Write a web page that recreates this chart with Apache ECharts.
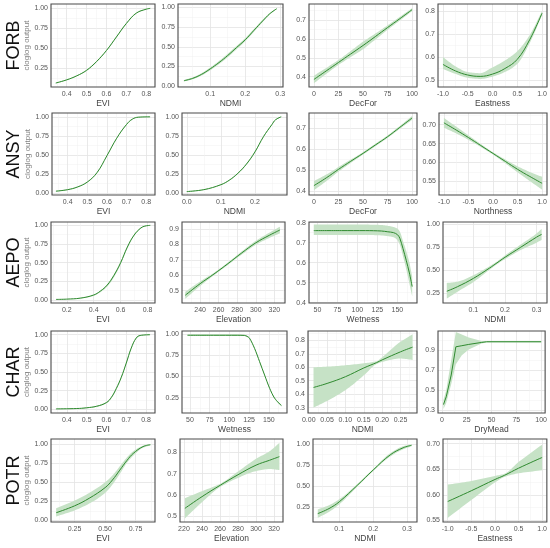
<!DOCTYPE html>
<html><head><meta charset="utf-8">
<script src="https://cdn.jsdelivr.net/npm/echarts@6/dist/echarts.min.js"></script>
<style>html,body{margin:0;padding:0;background:#fff}#c{width:550px;height:548px}</style>
</head><body><div id="c"></div>
<script>
// ---------- tick label arrays ----------
const ticksEvi = [0.4,0.5,0.6,0.7,0.8];
const ticksEvi2 = [0.2,0.4,0.6,0.8];
const ticksEvi3 = [0.25,0.5,0.75];
const ticksNdmi = [0,0.1,0.2,0.3];
const ticksNdmi2 = [0,0.05,0.1,0.15,0.2,0.25];
const ticksPct = [0,25,50,75,100];
const ticksAspect = [-1,-0.5,0,0.5,1];
const ticksProb = [0,0.25,0.5,0.75,1];
const ticksTenth = [0.3,0.4,0.5,0.6,0.7,0.8,0.9];
const ticksTwentieth = [0.55,0.6,0.65,0.7];
const ticksElevA = [240,260,280,300,320];
const ticksElevP = [220,240,260,280,300,320];
const ticksWet = [50,75,100,125,150];
const ticksOdd = [0.3,0.5,0.7,0.9];

const species = ['FORB','ANSY','AEPO','CHAR','POTR'];

// ---------- FORB ----------
const forbEviX   = [0.345,0.4,0.45,0.5,0.55,0.6,0.65,0.7,0.75,0.8,0.82];
const forbEviFit = [0.06,0.1,0.15,0.22,0.33,0.47,0.64,0.81,0.94,0.99,1.0];
const forbEviLo  = [0.055,0.094,0.144,0.213,0.322,0.462,0.632,0.803,0.934,0.986,0.997];
const forbEviHi  = [0.065,0.106,0.156,0.227,0.338,0.478,0.648,0.817,0.946,0.994,1.0];

const forbNdmiX   = [0.025,0.05,0.075,0.1,0.125,0.15,0.175,0.2,0.225,0.25,0.27,0.29];
const forbNdmiFit = [0.07,0.1,0.15,0.22,0.3,0.39,0.49,0.59,0.71,0.83,0.92,0.985];
const forbNdmiLo  = [0.06,0.088,0.135,0.202,0.28,0.368,0.468,0.57,0.692,0.815,0.91,0.979];
const forbNdmiHi  = [0.08,0.112,0.165,0.238,0.32,0.412,0.512,0.61,0.728,0.845,0.93,0.991];

const forbDecX   = [0,12.5,25,37.5,50,62.5,75,87.5,100];
const forbDecFit = [0.385,0.43,0.475,0.52,0.565,0.612,0.66,0.707,0.755];
const forbDecLo  = [0.365,0.414,0.462,0.504,0.545,0.596,0.648,0.697,0.747];
const forbDecHi  = [0.405,0.446,0.488,0.536,0.585,0.628,0.672,0.717,0.763];

const forbEastX   = [-1,-0.75,-0.5,-0.25,0,0.25,0.5,0.75,1];
const forbEastFit = [0.568,0.54,0.522,0.516,0.526,0.55,0.59,0.675,0.79];
const forbEastLo  = [0.548,0.527,0.51,0.505,0.515,0.535,0.57,0.66,0.782];
const forbEastHi  = [0.6,0.56,0.535,0.53,0.555,0.585,0.625,0.695,0.8];

// ---------- ANSY ----------
const ansyEviX   = [0.34,0.4,0.45,0.5,0.55,0.6,0.65,0.7,0.73,0.76,0.82];
const ansyEviFit = [0.025,0.045,0.08,0.145,0.27,0.49,0.72,0.9,0.97,0.995,1.0];
const ansyEviLo  = [0.019,0.039,0.074,0.139,0.264,0.484,0.714,0.894,0.964,0.99,0.996];
const ansyEviHi  = [0.031,0.051,0.086,0.151,0.276,0.496,0.726,0.906,0.976,1.0,1.003];

const ansyNdmiX   = [0,0.05,0.1,0.125,0.15,0.175,0.2,0.225,0.25,0.26,0.277];
const ansyNdmiFit = [0.02,0.045,0.11,0.17,0.26,0.38,0.54,0.74,0.9,0.96,1.0];
const ansyNdmiLo  = [0.015,0.04,0.104,0.163,0.252,0.371,0.531,0.732,0.894,0.955,0.996];
const ansyNdmiHi  = [0.025,0.05,0.116,0.177,0.268,0.389,0.549,0.748,0.906,0.965,1.003];

const ansyDecX   = [0,12.5,25,37.5,50,62.5,75,87.5,100];
const ansyDecFit = [0.425,0.462,0.503,0.542,0.58,0.62,0.66,0.705,0.75];
const ansyDecLo  = [0.403,0.446,0.492,0.534,0.574,0.614,0.654,0.698,0.741];
const ansyDecHi  = [0.447,0.478,0.514,0.55,0.586,0.626,0.666,0.712,0.759];

const ansyNorthX   = [-1,-0.75,-0.5,-0.25,0,0.25,0.5,0.75,1];
const ansyNorthFit = [0.705,0.686,0.666,0.645,0.624,0.603,0.582,0.563,0.545];
const ansyNorthLo  = [0.692,0.677,0.66,0.641,0.621,0.598,0.574,0.551,0.528];
const ansyNorthHi  = [0.718,0.695,0.672,0.649,0.627,0.608,0.59,0.575,0.562];

// ---------- AEPO ----------
const aepoEviX   = [0.12,0.2,0.3,0.4,0.45,0.5,0.55,0.6,0.65,0.7,0.75,0.78,0.82];
const aepoEviFit = [0.008,0.012,0.025,0.067,0.12,0.2,0.33,0.5,0.71,0.87,0.965,0.99,1.0];
const aepoEviLo  = [0.006,0.009,0.02,0.057,0.105,0.18,0.305,0.478,0.692,0.858,0.957,0.985,0.998];
const aepoEviHi  = [0.01,0.015,0.029,0.073,0.128,0.21,0.342,0.512,0.72,0.878,0.97,0.993,1.001];

const aepoElevX   = [224,240,255,270,285,300,315,326];
const aepoElevFit = [0.47,0.545,0.608,0.675,0.745,0.81,0.86,0.893];
const aepoElevLo  = [0.447,0.53,0.6,0.667,0.735,0.797,0.843,0.871];
const aepoElevHi  = [0.493,0.56,0.616,0.683,0.755,0.823,0.877,0.915];

const aepoWetX   = [45.5,80,110,130,138,145,150,153,157,161,165,168.5];
const aepoWetFit = [0.76,0.76,0.76,0.758,0.754,0.75,0.74,0.722,0.67,0.612,0.548,0.48];
const aepoWetLo  = [0.738,0.738,0.738,0.736,0.732,0.727,0.712,0.69,0.632,0.567,0.495,0.43];
const aepoWetHi  = [0.79,0.79,0.79,0.788,0.784,0.778,0.77,0.755,0.708,0.658,0.6,0.53];

const aepoNdmiX   = [0.016,0.05,0.1,0.15,0.175,0.2,0.25,0.3,0.316];
const aepoNdmiFit = [0.27,0.32,0.41,0.52,0.58,0.64,0.75,0.86,0.89];
const aepoNdmiLo  = [0.19,0.265,0.37,0.5,0.565,0.62,0.72,0.8,0.83];
const aepoNdmiHi  = [0.36,0.375,0.445,0.54,0.595,0.66,0.78,0.9,0.95];

// ---------- CHAR ----------
const charEviX   = [0.345,0.45,0.5,0.55,0.6,0.625,0.65,0.675,0.7,0.725,0.75,0.77,0.82];
const charEviFit = [0.005,0.01,0.02,0.04,0.09,0.16,0.28,0.43,0.62,0.82,0.955,0.99,1.0];
const charEviLo  = [0.002,0.006,0.014,0.032,0.08,0.148,0.266,0.415,0.605,0.807,0.946,0.984,0.996];
const charEviHi  = [0.008,0.014,0.026,0.048,0.1,0.172,0.294,0.445,0.635,0.833,0.964,0.996,1.003];

const charWetX   = [47,80,110,119,122.5,125.6,131.9,138.3,144.6,151,157.4,166];
const charWetFit = [0.985,0.985,0.985,0.983,0.972,0.949,0.831,0.674,0.517,0.361,0.243,0.156];
const charWetLo  = [0.977,0.977,0.977,0.975,0.964,0.941,0.823,0.666,0.509,0.353,0.235,0.148];
const charWetHi  = [0.993,0.993,0.993,0.991,0.98,0.957,0.839,0.682,0.525,0.369,0.251,0.164];

const charNdmiX   = [0.013,0.05,0.1,0.15,0.185,0.2,0.25,0.283];
const charNdmiFit = [0.45,0.48,0.53,0.595,0.635,0.655,0.715,0.75];
const charNdmiLo  = [0.30,0.35,0.43,0.54,0.625,0.64,0.665,0.655];
const charNdmiHi  = [0.60,0.605,0.615,0.63,0.645,0.675,0.79,0.845];

const charDryX   = [1.5,4.3,9.3,14,20,27,40,45,100];
const charDryFit = [0.355,0.433,0.652,0.936,0.947,0.96,0.98,0.987,0.987];
const charDryLo  = [0.31,0.37,0.56,0.76,0.85,0.91,0.97,0.98,0.98];
const charDryHi  = [0.4,0.5,0.8,1.085,1.06,1.03,0.995,0.992,0.992];

// ---------- POTR ----------
const potrEviX   = [0.1,0.25,0.37,0.5,0.56,0.62,0.68,0.73,0.81,0.87];
const potrEviFit = [0.1,0.19,0.29,0.43,0.53,0.66,0.79,0.88,0.97,0.995];
const potrEviLo  = [0.05,0.13,0.22,0.36,0.47,0.61,0.76,0.85,0.955,0.985];
const potrEviHi  = [0.16,0.26,0.36,0.5,0.59,0.71,0.83,0.91,0.98,1.0];

const potrElevX   = [221,240,260,280,300,315,326];
const potrElevFit = [0.537,0.592,0.645,0.695,0.74,0.763,0.78];
const potrElevLo  = [0.49,0.566,0.637,0.68,0.712,0.722,0.717];
const potrElevHi  = [0.585,0.618,0.652,0.71,0.77,0.805,0.845];

const potrNdmiX   = [0.037,0.07,0.1,0.154,0.2,0.25,0.288,0.313];
const potrNdmiFit = [0.17,0.23,0.31,0.51,0.69,0.87,0.955,0.985];
const potrNdmiLo  = [0.12,0.19,0.28,0.495,0.678,0.85,0.937,0.973];
const potrNdmiHi  = [0.22,0.27,0.34,0.525,0.702,0.89,0.973,0.997];

const potrEastX   = [-1,-0.5,0,0.2,0.5,1];
const potrEastFit = [0.587,0.608,0.63,0.638,0.652,0.673];
const potrEastLo  = [0.555,0.59,0.624,0.635,0.642,0.648];
const potrEastHi  = [0.62,0.627,0.637,0.641,0.664,0.698];

// ---------- layout (box = [left, right, top, bottom] in px) ----------
const panels = [
 {box:[51,155,4,87],  xn:'EVI',  xr:[0.321,0.844], xt:ticksEvi, xd:1, yr:[0.01,1.055], yt:ticksProb, yd:2, x:forbEviX, f:forbEviFit, lo:forbEviLo, hi:forbEviHi},
 {box:[178,283,4,87], xn:'NDMI', xr:[0.008,0.308], xt:ticksNdmi, xd:1, yr:[-0.01,1.045], yt:ticksProb, yd:2, x:forbNdmiX, f:forbNdmiFit, lo:forbNdmiLo, hi:forbNdmiHi},
 {box:[309,417,4,87], xn:'DecFor', xr:[-5,105], xt:ticksPct, xd:0, yr:[0.345,0.785], yt:ticksTenth, yd:1, x:forbDecX, f:forbDecFit, lo:forbDecLo, hi:forbDecHi},
 {box:[438,547,4,87], xn:'Eastness', xr:[-1.1,1.1], xt:ticksAspect, xd:1, yr:[0.47,0.83], yt:ticksTenth, yd:1, x:forbEastX, f:forbEastFit, lo:forbEastLo, hi:forbEastHi},

 {box:[52,155,113,195], xn:'EVI', xr:[0.32,0.845], xt:ticksEvi, xd:1, yr:[-0.025,1.05], yt:ticksProb, yd:2, x:ansyEviX, f:ansyEviFit, lo:ansyEviLo, hi:ansyEviHi},
 {box:[182,287,113,195], xn:'NDMI', xr:[-0.014,0.294], xt:ticksNdmi, xd:1, yr:[-0.025,1.05], yt:ticksProb, yd:2, x:ansyNdmiX, f:ansyNdmiFit, lo:ansyNdmiLo, hi:ansyNdmiHi},
 {box:[309,417,113,195], xn:'DecFor', xr:[-5,105], xt:ticksPct, xd:0, yr:[0.38,0.774], yt:ticksTenth, yd:1, x:ansyDecX, f:ansyDecFit, lo:ansyDecLo, hi:ansyDecHi},
 {box:[439,547,113,195], xn:'Northness', xr:[-1.1,1.1], xt:ticksAspect, xd:1, yr:[0.514,0.731], yt:ticksTwentieth, yd:2, x:ansyNorthX, f:ansyNorthFit, lo:ansyNorthLo, hi:ansyNorthHi},

 {box:[51,155,222,303], xn:'EVI', xr:[0.083,0.855], xt:ticksEvi2, xd:1, yr:[-0.04,1.045], yt:ticksProb, yd:2, x:aepoEviX, f:aepoEviFit, lo:aepoEviLo, hi:aepoEviHi},
 {box:[182,285,222,303], xn:'Elevation', xr:[220.5,331.5], xt:ticksElevA, xd:0, yr:[0.42,0.945], yt:ticksTenth, yd:1, x:aepoElevX, f:aepoElevFit, lo:aepoElevLo, hi:aepoElevHi},
 {box:[309,417,222,303], xn:'Wetness', xr:[39.5,174.5], xt:ticksWet, xd:0, yr:[0.398,0.803], yt:ticksTenth, yd:1, x:aepoWetX, f:aepoWetFit, lo:aepoWetLo, hi:aepoWetHi, sm:0.3},
 {box:[443,547,222,303], xn:'NDMI', xr:[0.004,0.333], xt:ticksNdmi, xd:1, yr:[0.142,1.025], yt:ticksProb, yd:2, x:aepoNdmiX, f:aepoNdmiFit, lo:aepoNdmiLo, hi:aepoNdmiHi},

 {box:[51,155,331,413], xn:'EVI', xr:[0.32,0.845], xt:ticksEvi, xd:1, yr:[-0.05,1.05], yt:ticksProb, yd:2, x:charEviX, f:charEviFit, lo:charEviLo, hi:charEviHi},
 {box:[182,287,331,413], xn:'Wetness', xr:[40,173], xt:ticksWet, xd:0, yr:[0.07,1.035], yt:ticksProb, yd:2, x:charWetX, f:charWetFit, lo:charWetLo, hi:charWetHi, sm:0.3},
 {box:[308,417,331,413], xn:'NDMI', xr:[-0.002,0.295], xt:ticksNdmi2, xd:2, yr:[0.26,0.87], yt:ticksTenth, yd:1, x:charNdmiX, f:charNdmiFit, lo:charNdmiLo, hi:charNdmiHi},
 {box:[438,547,331,413], xn:'DryMead', xr:[-4,104], xt:ticksPct, xd:0, yr:[0.27,1.095], yt:ticksOdd, yd:1, x:charDryX, f:charDryFit, lo:charDryLo, hi:charDryHi, sm:false},

 {box:[51,155,439,522], xn:'EVI', xr:[0.058,0.908], xt:ticksEvi3, xd:2, yr:[-0.022,1.07], yt:ticksProb, yd:2, x:potrEviX, f:potrEviFit, lo:potrEviLo, hi:potrEviHi},
 {box:[180,283,439,522], xn:'Elevation', xr:[215.6,330], xt:ticksElevP, xd:0, yr:[0.473,0.863], yt:ticksTenth, yd:1, x:potrElevX, f:potrElevFit, lo:potrElevLo, hi:potrElevHi},
 {box:[313,417,439,522], xn:'NDMI', xr:[0.023,0.329], xt:ticksNdmi, xd:1, yr:[0.07,1.06], yt:ticksProb, yd:2, x:potrNdmiX, f:potrNdmiFit, lo:potrNdmiLo, hi:potrNdmiHi},
 {box:[443,547,439,522], xn:'Eastness', xr:[-1.1,1.1], xt:ticksAspect, xd:1, yr:[0.547,0.709], yt:ticksTwentieth, yd:2, x:potrEastX, f:potrEastFit, lo:potrEastLo, hi:potrEastHi}
];

const FONT = 'Liberation Sans, Arial, sans-serif';
const LINE = '#2f8a2f';
const BAND = '#c6e2c6';

function minors(t, lo, hi) {
  const step = t[1] - t[0];
  const out = [];
  const k0 = Math.floor((lo - t[0]) / step) - 1;
  const k1 = Math.ceil((hi - t[0]) / step) + 1;
  for (let k = k0; k <= k1; k++) {
    const v = +(t[0] + (k + 0.5) * step).toFixed(6);
    if (v > lo && v < hi) out.push(v);
  }
  return out;
}

// monotone cubic (Fritsch-Carlson) sampling of pixel points, for drawing band edges
function monoSample(pts, n) {
  const m = pts.length;
  if (m < 3) return pts.slice();
  const dx = [], s = [];
  for (let i = 0; i < m - 1; i++) {
    dx[i] = pts[i + 1][0] - pts[i][0];
    s[i] = (pts[i + 1][1] - pts[i][1]) / dx[i];
  }
  const t = [s[0]];
  for (let i = 1; i < m - 1; i++) {
    if (s[i - 1] * s[i] <= 0) t[i] = 0;
    else t[i] = 3 * (dx[i - 1] + dx[i]) / ((2 * dx[i] + dx[i - 1]) / s[i - 1] + (dx[i] + 2 * dx[i - 1]) / s[i]);
  }
  t[m - 1] = s[m - 2];
  const out = [];
  for (let i = 0; i < m - 1; i++) {
    const h = dx[i], y0 = pts[i][1], y1 = pts[i + 1][1];
    for (let k = 0; k < n; k++) {
      const u = k / n, u2 = u * u, u3 = u2 * u;
      const y = (2*u3 - 3*u2 + 1) * y0 + (u3 - 2*u2 + u) * h * t[i] + (-2*u3 + 3*u2) * y1 + (u3 - u2) * h * t[i + 1];
      out.push([pts[i][0] + u * h, y]);
    }
  }
  out.push(pts[m - 1]);
  return out;
}

const grid = [], xAxis = [], yAxis = [], series = [];
panels.forEach((p, i) => {
  const [l, r, t, b] = p.box;
  grid.push({left:l, top:t, width:r-l, height:b-t, show:true, z:10,
    backgroundColor:'transparent', borderColor:'#4a4a4a', borderWidth:1.1});
  const lbl = (vals, d, margin) => ({customValues:vals, formatter:v => (+v).toFixed(d),
    fontSize:7, color:'#555', fontFamily:FONT, margin:margin});
  xAxis.push({gridIndex:i, type:'value', min:p.xr[0], max:p.xr[1], position:'bottom',
    axisLine:{show:false}, axisTick:{show:false, customValues:p.xt},
    axisLabel:lbl(p.xt, p.xd, 4),
    splitLine:{show:true, lineStyle:{color:'#e3e3e3', width:0.8}},
    name:p.xn, nameLocation:'middle', nameGap:12,
    nameTextStyle:{fontSize:8.5, color:'#444', fontFamily:FONT}});
  const xm = minors(p.xt, p.xr[0], p.xr[1]);
  xAxis.push({gridIndex:i, type:'value', min:p.xr[0], max:p.xr[1], position:'top',
    axisLine:{show:false}, axisTick:{show:false, customValues:xm},
    axisLabel:{show:false, customValues:xm},
    splitLine:{show:true, lineStyle:{color:'#f1f1f1', width:0.5}}});
  const ya = {gridIndex:i, type:'value', min:p.yr[0], max:p.yr[1], position:'left',
    axisLine:{show:false}, axisTick:{show:false, customValues:p.yt},
    axisLabel:lbl(p.yt, p.yd, 3),
    splitLine:{show:true, lineStyle:{color:'#e3e3e3', width:0.8}}};
  if (i % 4 === 0) {
    Object.assign(ya, {name:'cloglog output', nameLocation:'middle', nameGap:18,
      nameTextStyle:{fontSize:8, color:'#808080', fontFamily:FONT}});
  }
  yAxis.push(ya);
  const ym = minors(p.yt, p.yr[0], p.yr[1]);
  yAxis.push({gridIndex:i, type:'value', min:p.yr[0], max:p.yr[1], position:'right',
    axisLine:{show:false}, axisTick:{show:false, customValues:ym},
    axisLabel:{show:false, customValues:ym},
    splitLine:{show:true, lineStyle:{color:'#f1f1f1', width:0.5}}});

  const sm = (p.sm === undefined) ? 0.4 : p.sm;
  series.push({type:'custom', xAxisIndex:2*i, yAxisIndex:2*i, silent:true, clip:true, z:2,
    encode:{x:0, y:[1, 2]},
    data:p.x.map((v, j) => [v, p.lo[j], p.hi[j]]),
    renderItem:(params, api) => {
      if (params.dataIndex !== 0) return null;
      let up = p.x.map((v, j) => api.coord([v, p.hi[j]]));
      let dn = p.x.map((v, j) => api.coord([v, p.lo[j]]));
      if (sm !== false) { up = monoSample(up, 10); dn = monoSample(dn, 10); }
      return {type:'polygon', shape:{points:up.concat(dn.reverse())},
        style:{fill:BAND, stroke:null}};
    }});
  series.push({type:'line', xAxisIndex:2*i, yAxisIndex:2*i, symbol:'none', silent:true,
    smooth:sm, data:p.x.map((v, j) => [v, p.f[j]]),
    lineStyle:{color:LINE, width:1}, z:3});
});

const graphic = species.map((s, k) => {
  const p = panels[k * 4];
  return {type:'text', x:14, y:(p.box[2] + p.box[3]) / 2, rotation:Math.PI / 2,
    style:{text:s, font:'18px ' + FONT, fill:'#111', textAlign:'center', textVerticalAlign:'middle'}};
});

const chart = echarts.init(document.getElementById('c'));
chart.setOption({animation:false, backgroundColor:'#fff', grid, xAxis, yAxis, series, graphic});
</script></body></html>
